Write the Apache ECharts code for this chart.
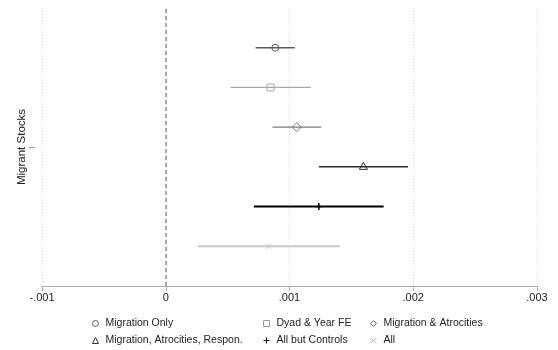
<!DOCTYPE html>
<html>
<head>
<meta charset="utf-8">
<script src="https://cdn.jsdelivr.net/npm/echarts@6/dist/echarts.min.js"></script>
<style>html,body{margin:0;padding:0;background:#fff}#c{width:558px;height:350px}</style>
</head>
<body>
<div id="c"></div>
<script>
const categories = ['Migrant Stocks'];
const modelNames = ['Migration Only', 'Dyad & Year FE', 'Migration & Atrocities',
  'Migration, Atrocities, Respon.', 'All but Controls', 'All'];
const estimates = [0.000885, 0.000847, 0.001059, 0.001597, 0.001237, 0.000831];
const ciLow  = [0.000726, 0.000524, 0.000863, 0.001237, 0.000712, 0.000260];
const ciHigh = [0.001043, 0.001172, 0.001256, 0.001958, 0.001761, 0.001406];
const xTickValues = [-0.001, 0, 0.001, 0.002, 0.003];
const xTickLabels = ['-.001', '0', '.001', '.002', '.003'];

const lineColors = ['#5a5a5a', '#a8a8a8', '#7a7a7a', '#2a2a2a', '#000000', '#c8c8c8'];
const lineWidths = [1.5, 1.2, 1.3, 1.5, 2, 2];
const markers = ['circle', 'rect', 'diamond', 'triangle', 'plus', 'cross'];

function markerShape(kind, cx, cy, color) {
  const s = { stroke: color, fill: 'none', lineWidth: 1 };
  if (kind === 'circle') return { type: 'circle', shape: { cx, cy, r: 3.5 }, style: s };
  if (kind === 'rect') return { type: 'rect', shape: { x: cx - 3.5, y: cy - 3.5, width: 7, height: 7 }, style: s };
  if (kind === 'diamond') return { type: 'polygon', shape: { points: [[cx, cy - 4.5], [cx + 4.5, cy], [cx, cy + 4.5], [cx - 4.5, cy]] }, style: s };
  if (kind === 'triangle') return { type: 'polygon', shape: { points: [[cx, cy - 4.5], [cx + 4, cy + 2.5], [cx - 4, cy + 2.5]] }, style: s };
  if (kind === 'plus') return { type: 'group', children: [
    { type: 'line', shape: { x1: cx - 3, y1: cy, x2: cx + 3, y2: cy }, style: { stroke: color, lineWidth: 1.5 } },
    { type: 'line', shape: { x1: cx, y1: cy - 3.5, x2: cx, y2: cy + 3.5 }, style: { stroke: color, lineWidth: 1.5 } }] };
  return { type: 'group', children: [
    { type: 'line', shape: { x1: cx - 2.5, y1: cy - 2.5, x2: cx + 2.5, y2: cy + 2.5 }, style: { stroke: color, lineWidth: 1 } },
    { type: 'line', shape: { x1: cx - 2.5, y1: cy + 2.5, x2: cx + 2.5, y2: cy - 2.5 }, style: { stroke: color, lineWidth: 1 } }] };
}

const nModels = modelNames.length;
const series = modelNames.map((name, i) => ({
  name: name,
  type: 'custom',
  data: [[estimates[i], ciLow[i], ciHigh[i], 0]],
  encode: { x: [0, 1, 2], y: 3 },
  renderItem: function (params, api) {
    const band = api.size([0, 1])[1];
    const off = (i - (nModels - 1) / 2) * band / 7;
    const pe = api.coord([api.value(0), api.value(3)]);
    const pl = api.coord([api.value(1), api.value(3)]);
    const ph = api.coord([api.value(2), api.value(3)]);
    const y = pe[1] + off;
    return { type: 'group', children: [
      { type: 'line', shape: { x1: pl[0], y1: y, x2: ph[0], y2: y }, style: { stroke: lineColors[i], lineWidth: lineWidths[i] } },
      markerShape(markers[i], pe[0], y, lineColors[i])
    ] };
  }
}));

series.push({
  type: 'line', data: [], silent: true,
  markLine: { symbol: 'none', silent: true, label: { show: false },
    lineStyle: { color: '#8a8a8a', width: 1.5, type: [4, 3] },
    data: [{ xAxis: 0 }] }
});

const plusPath = 'path://M4,0L6,0L6,4L10,4L10,6L6,6L6,10L4,10L4,6L0,6L0,4L4,4Z';
const crossPath = 'path://M0,1L1,0L5,4L9,0L10,1L6,5L10,9L9,10L5,6L1,10L0,9L4,5Z';
const legendIcons = ['circle', 'rect', 'diamond', 'triangle', plusPath, crossPath];
const legendHollow = [true, true, true, true, false, false];
const legendColors = ['#555', '#999', '#666', '#333', '#222', '#bbb'];
function legendItem(i) {
  return { name: modelNames[i], icon: legendIcons[i],
    itemStyle: legendHollow[i] ? { color: 'rgba(0,0,0,0)', borderColor: legendColors[i], borderWidth: 1 }
                                : { color: legendColors[i], borderWidth: 0 } };
}
const legendCommon = { orient: 'vertical', top: 318, itemWidth: 6, itemHeight: 6, itemGap: 5, itemGap: 6,
  textStyle: { fontFamily: 'Liberation Sans', fontSize: 10.5, color: '#222', padding: [0, 0, 0, 2] },
  padding: 0, selectedMode: false };

const chart = echarts.init(document.getElementById('c'), null, { renderer: 'canvas' });
chart.setOption({
  animation: false,
  backgroundColor: '#fff',
  grid: { left: 42, right: 21, top: 8, bottom: 64 },
  xAxis: {
    type: 'value', min: -0.001, max: 0.003, interval: 0.001,
    axisLine: { show: true, onZero: false, lineStyle: { color: '#aaa', width: 1 } },
    axisTick: { show: true, length: 5, lineStyle: { color: '#aaa' } },
    axisLabel: { margin: 6, fontFamily: 'Liberation Sans', fontSize: 11, color: '#222',
      formatter: v => { const k = xTickValues.findIndex(t => Math.abs(t - v) < 1e-9); return k >= 0 ? xTickLabels[k] : ''; } },
    splitLine: { show: true, lineStyle: { color: '#dcdcdc', type: [1, 2], width: 1 } }
  },
  yAxis: {
    type: 'category', data: categories, offset: 7,
    axisLine: { show: false, onZero: false },
    axisTick: { show: true, alignWithLabel: true, length: 6, lineStyle: { color: '#999' } },
    axisLabel: { rotate: 90, margin: 7, fontFamily: 'Liberation Sans', fontSize: 11.5, color: '#222' },
    splitLine: { show: false }
  },
  legend: [
    Object.assign({}, legendCommon, { left: 92, data: [legendItem(0), legendItem(3)] }),
    Object.assign({}, legendCommon, { left: 263, data: [legendItem(1), legendItem(4)] }),
    Object.assign({}, legendCommon, { left: 370, data: [legendItem(2), legendItem(5)] })
  ],
  series: series
});
</script>
</body>
</html>
